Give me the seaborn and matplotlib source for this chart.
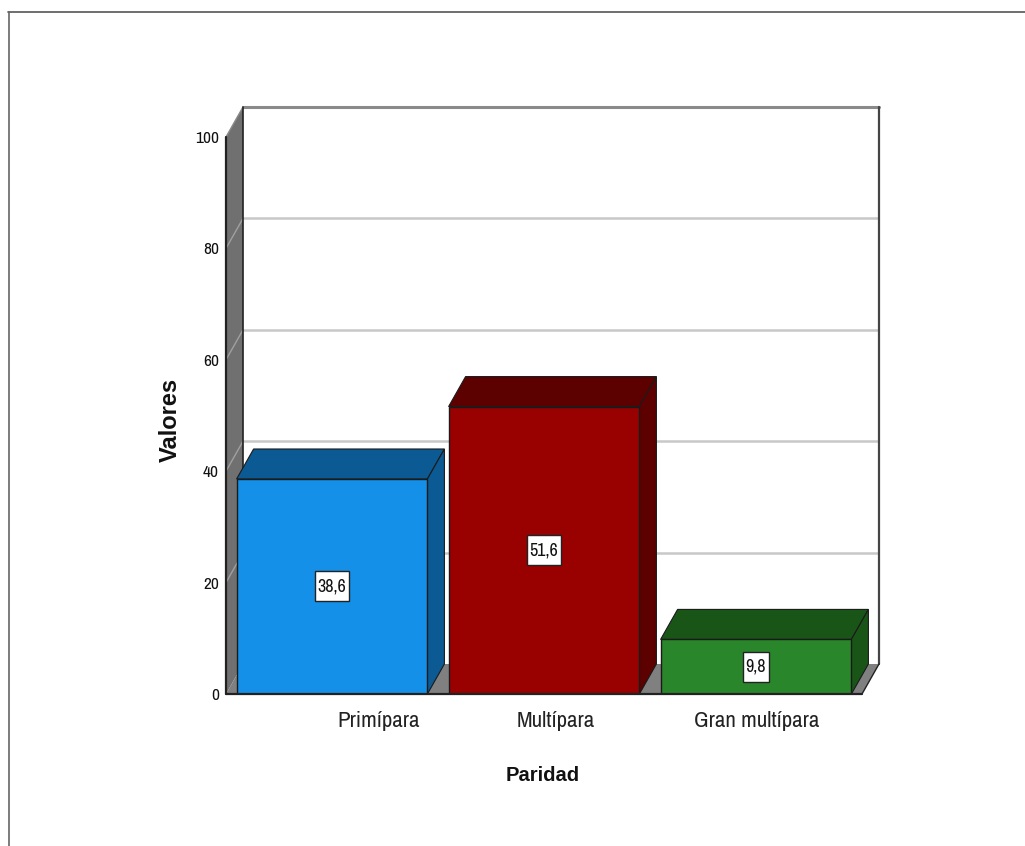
import matplotlib
matplotlib.use("Agg")
import matplotlib.pyplot as plt
from matplotlib.lines import Line2D
from matplotlib.patches import Polygon, Rectangle
from matplotlib.transforms import IdentityTransform
import pandas as pd
import seaborn as sns

categories = ["Primípara", "Multípara", "Gran multípara"]
values = [38.6, 51.6, 9.8]
value_labels = ["38,6", "51,6", "9,8"]
front_colors = ["#1490E8", "#990000", "#2A862A"]
shade_colors = ["#0B5A94", "#5C0000", "#1A5518"]
y_ticks = [0, 20, 40, 60, 80, 100]
category_label_positions = [0.222, 1.054, 2.005]

WIDTH, HEIGHT = 1025, 846
BAR_WIDTH = 0.9
DEPTH_X = 17 / 212      # oblique depth in category units
DEPTH_Y = 30 / 5.57     # oblique depth in value units

sns.set_theme(style="white")
plt.rcParams["font.family"] = ["Archivo Narrow", "Liberation Sans", "DejaVu Sans"]
BOLD_FAMILY = ["Liberation Sans", "DejaVu Sans"]

fig = plt.figure(figsize=(WIDTH / 100, HEIGHT / 100), dpi=100)
ax = fig.add_axes([226 / WIDTH, 1 - 694 / HEIGHT, 636 / WIDTH, 557 / HEIGHT])

df = pd.DataFrame({"Paridad": categories, "Valores": values})
sns.barplot(data=df, x="Paridad", y="Valores", hue="Paridad", palette=front_colors,
            order=categories, hue_order=categories, dodge=False, legend=False,
            width=BAR_WIDTH, saturation=1, edgecolor="#1a1a1a", linewidth=1.0, ax=ax, zorder=5)
ax.set_xlim(-0.5, 2.5)
ax.set_ylim(0, 100)

# Oblique side wall and floor of the box behind the bars
x0, x1 = -0.5, 2.5
dx, dy = DEPTH_X, DEPTH_Y
ax.add_patch(Polygon([(x0, 0), (x0 + dx, dy), (x0 + dx, 100 + dy), (x0, 100)],
                     closed=True, facecolor="#707070", edgecolor="none", clip_on=False, zorder=1))
ax.add_patch(Polygon([(x0, 0), (x1, 0), (x1 + dx, dy), (x0 + dx, dy)],
                     closed=True, facecolor="#808080", edgecolor="none", clip_on=False, zorder=1))

# Gridlines run along the back wall and fold down the side wall
for tick in y_ticks[1:-1]:
    ax.plot([x0 + dx, x1 + dx], [tick + dy, tick + dy], color="#c8c8c8", lw=1.8,
            clip_on=False, zorder=2, solid_capstyle="butt")
    ax.plot([x0, x0 + dx], [tick, tick + dy], color="#a0a0a0", lw=1.0, clip_on=False, zorder=2)

# Box outline
ax.plot([x0 + dx, x1 + dx], [100 + dy, 100 + dy], color="#8a8a8a", lw=2.2, clip_on=False, zorder=3)
ax.plot([x0, x0 + dx], [100, 100 + dy], color="#8a8a8a", lw=1.0, clip_on=False, zorder=3)
ax.plot([x0 + dx, x0 + dx], [dy, 100 + dy], color="#222222", lw=1.2, clip_on=False, zorder=3)
ax.plot([x1 + dx, x1 + dx], [dy, 100 + dy], color="#444444", lw=1.6, clip_on=False, zorder=3)
ax.plot([x0, x0], [0, 100], color="#222222", lw=1.6, clip_on=False, zorder=6)
ax.plot([x0, x1], [0, 0], color="#222222", lw=1.6, clip_on=False, zorder=6)
ax.plot([x1, x1 + dx], [0, dy], color="#222222", lw=1.0, clip_on=False, zorder=3)

# Top and side faces of each bar
for i, (value, shade) in enumerate(zip(values, shade_colors)):
    left, right = i - BAR_WIDTH / 2, i + BAR_WIDTH / 2
    ax.add_patch(Polygon([(left, value), (right, value), (right + dx, value + dy), (left + dx, value + dy)],
                         closed=True, facecolor=shade, edgecolor="#1a1a1a", lw=0.8, clip_on=False, zorder=4))
    ax.add_patch(Polygon([(right, 0), (right + dx, dy), (right + dx, value + dy), (right, value)],
                         closed=True, facecolor=shade, edgecolor="#1a1a1a", lw=0.8, clip_on=False, zorder=4))

for spine in ax.spines.values():
    spine.set_visible(False)
ax.set_yticks(y_ticks)
ax.set_yticklabels([str(t) for t in y_ticks], fontsize=12.5, color="#111111")
ax.set_xticks(category_label_positions)
ax.set_xticklabels(categories, fontsize=16.5, color="#222222")
ax.tick_params(axis="both", length=0)
ax.tick_params(axis="y", pad=5)
ax.tick_params(axis="x", pad=12)
ax.set_xlabel("")
ax.set_ylabel("")

fig.text(543 / WIDTH, 1 - 775 / HEIGHT, "Paridad", ha="center", va="center",
         fontsize=14.5, fontweight="bold", color="#111111", family=BOLD_FAMILY)
fig.text(170 / WIDTH, 1 - 420 / HEIGHT, "Valores", ha="center", va="center", rotation=90,
         fontsize=17, fontweight="bold", color="#111111", family=BOLD_FAMILY)

# Value labels at the middle of each bar, in tall narrow white boxes sized in pixels
fig.canvas.draw()
renderer = fig.canvas.get_renderer()
for container, label in zip(ax.containers, value_labels):
    for text in ax.bar_label(container, labels=[label], label_type="center", fontsize=13,
                             color="#111111", zorder=8):
        extent = text.get_window_extent(renderer)
        cx, cy = (extent.x0 + extent.x1) / 2, (extent.y0 + extent.y1) / 2
        box_w, box_h = extent.width + 5, 30
        ax.add_patch(Rectangle((cx - box_w / 2, cy - box_h / 2), box_w, box_h,
                               transform=IdentityTransform(), facecolor="white",
                               edgecolor="#222222", linewidth=1.0, zorder=7))

# Frame fragments along the top and left of the sheet
fig.add_artist(Line2D([8 / WIDTH, 1], [1 - 12 / HEIGHT, 1 - 12 / HEIGHT], color="#555555", lw=1.2))
fig.add_artist(Line2D([8.5 / WIDTH, 8.5 / WIDTH], [0, 1 - 12 / HEIGHT], color="#666666", lw=1.2))

fig.savefig("out.png", dpi=100, facecolor="white")
